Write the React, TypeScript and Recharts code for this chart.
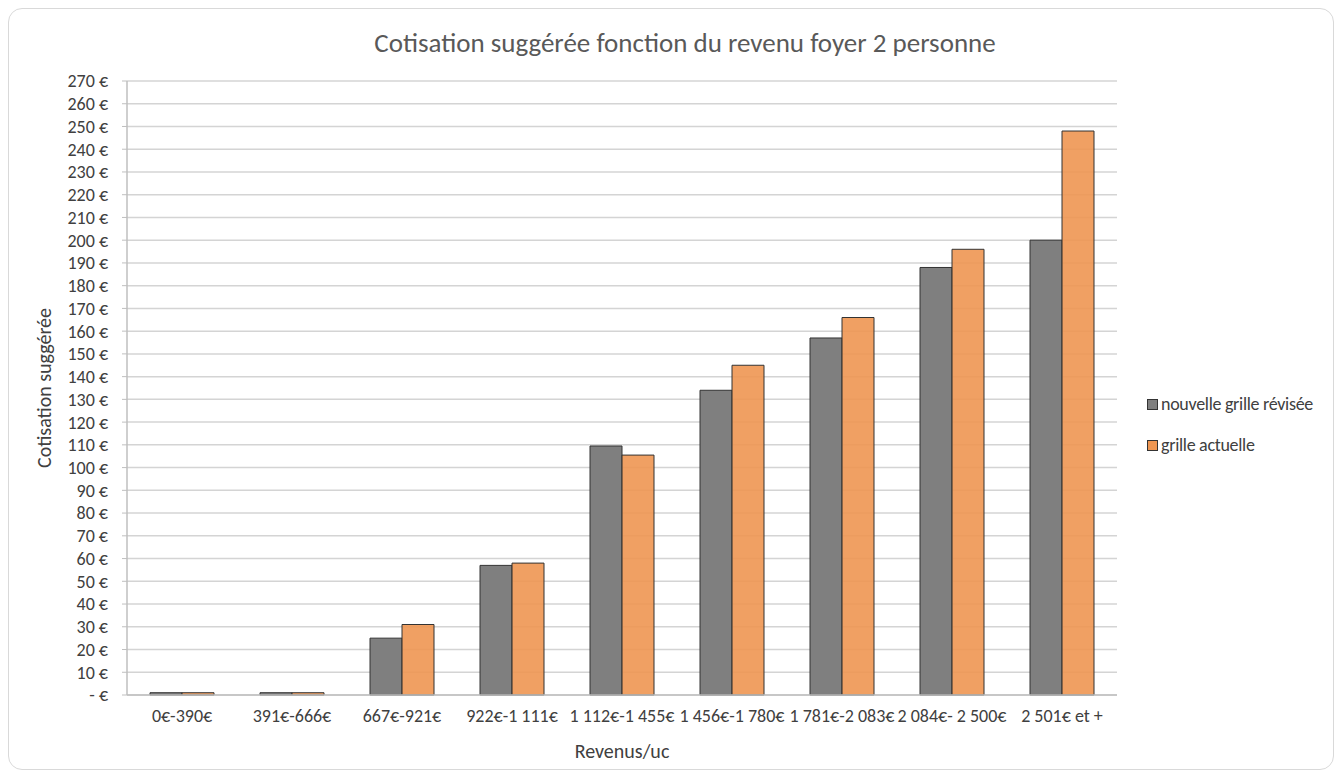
import { Bar, BarChart, CartesianGrid, Label, XAxis, YAxis } from 'recharts';

const categories = [
  '0€-390€',
  '391€-666€',
  '667€-921€',
  '922€-1 111€',
  '1 112€-1 455€',
  '1 456€-1 780€',
  '1 781€-2 083€',
  '2 084€- 2 500€',
  '2 501€ et +',
];
const nouvelleGrille = [1, 1, 25, 57, 109.5, 134, 157, 188, 200];
const grilleActuelle = [1, 1, 31, 58, 105.5, 145, 166, 196, 248];
const yTicks = Array.from({ length: 28 }, (_, i) => i * 10);

const seriesNames = ['nouvelle grille révisée', 'grille actuelle'];
const seriesColors = ['#7f7f7f', '#ee9652'];

const data = categories.map((c, i) => ({
  cat: c,
  nouvelle: nouvelleGrille[i],
  actuelle: grilleActuelle[i],
}));

const font = "Carlito, 'Open Sans', sans-serif";
const textColor = '#404040';

const euro = (v: number) => (v === 0 ? '- €' : `${v} €`);

export default function App() {
  return (
    <div style={{ position: 'absolute', left: 0, top: 0, width: 1342, height: 778, background: '#fff', fontFamily: font }}>
      <div
        style={{
          position: 'absolute',
          left: 8,
          top: 8,
          width: 1324,
          height: 760,
          border: '1px solid #d9d9d9',
          borderRadius: 14,
        }}
      />
      <BarChart
        width={1342}
        height={778}
        data={data}
        margin={{ top: 81, right: 225, bottom: 0, left: 0 }}
        barCategoryGap={23}
        barGap={0}
        style={{ position: 'absolute', left: 0, top: 0 }}
      >
        <text x={685} y={52} textAnchor="middle" fontSize={27} fill="#595959" fontFamily={font}>
          Cotisation suggérée fonction du revenu foyer 2 personne
        </text>
        <CartesianGrid vertical={false} stroke="#d4d4d4" strokeWidth={1.5} />
        <XAxis
          dataKey="cat"
          height={83}
          interval={0}
          tickLine={false}
          axisLine={{ stroke: '#bfbfbf', strokeWidth: 1.5 }}
          tick={{ fontSize: 18, fill: textColor, fontFamily: font }}
          tickMargin={8}
        >
          <Label value="Revenus/uc" position="insideBottom" offset={20} fontSize={20} fill={textColor} fontFamily={font} />
        </XAxis>
        <YAxis
          width={127}
          domain={[0, 270]}
          ticks={yTicks}
          interval={0}
          tickFormatter={euro}
          tickSize={5}
          tickLine={{ stroke: '#bfbfbf' }}
          axisLine={{ stroke: '#bfbfbf', strokeWidth: 1.5 }}
          tick={{ fontSize: 18, fill: textColor, fontFamily: font }}
          tickMargin={14}
        >
          <Label
            value="Cotisation suggérée"
            angle={-90}
            position="insideLeft"
            offset={44}
            fontSize={20}
            fill={textColor}
            fontFamily={font}
            style={{ textAnchor: 'middle' }}
          />
        </YAxis>
        <Bar dataKey="nouvelle" name={seriesNames[0]} fill={seriesColors[0]} stroke="#333" strokeWidth={1} isAnimationActive={false} />
        <Bar
          dataKey="actuelle"
          name={seriesNames[1]}
          fill={seriesColors[1]}
          fillOpacity={0.9}
          stroke="#333"
          strokeWidth={1}
          isAnimationActive={false}
        />
      </BarChart>
      <div style={{ position: 'absolute', left: 1147, top: 393, fontSize: 18, color: textColor, lineHeight: '22px', letterSpacing: -0.3 }}>
        {seriesNames.map((n, i) => (
          <div key={n} style={{ display: 'flex', alignItems: 'center', marginBottom: 19 }}>
            <span
              style={{
                width: 9,
                height: 9,
                background: seriesColors[i],
                border: '1px solid #333',
                marginRight: 3,
                display: 'inline-block',
              }}
            />
            {n}
          </div>
        ))}
      </div>
    </div>
  );
}
